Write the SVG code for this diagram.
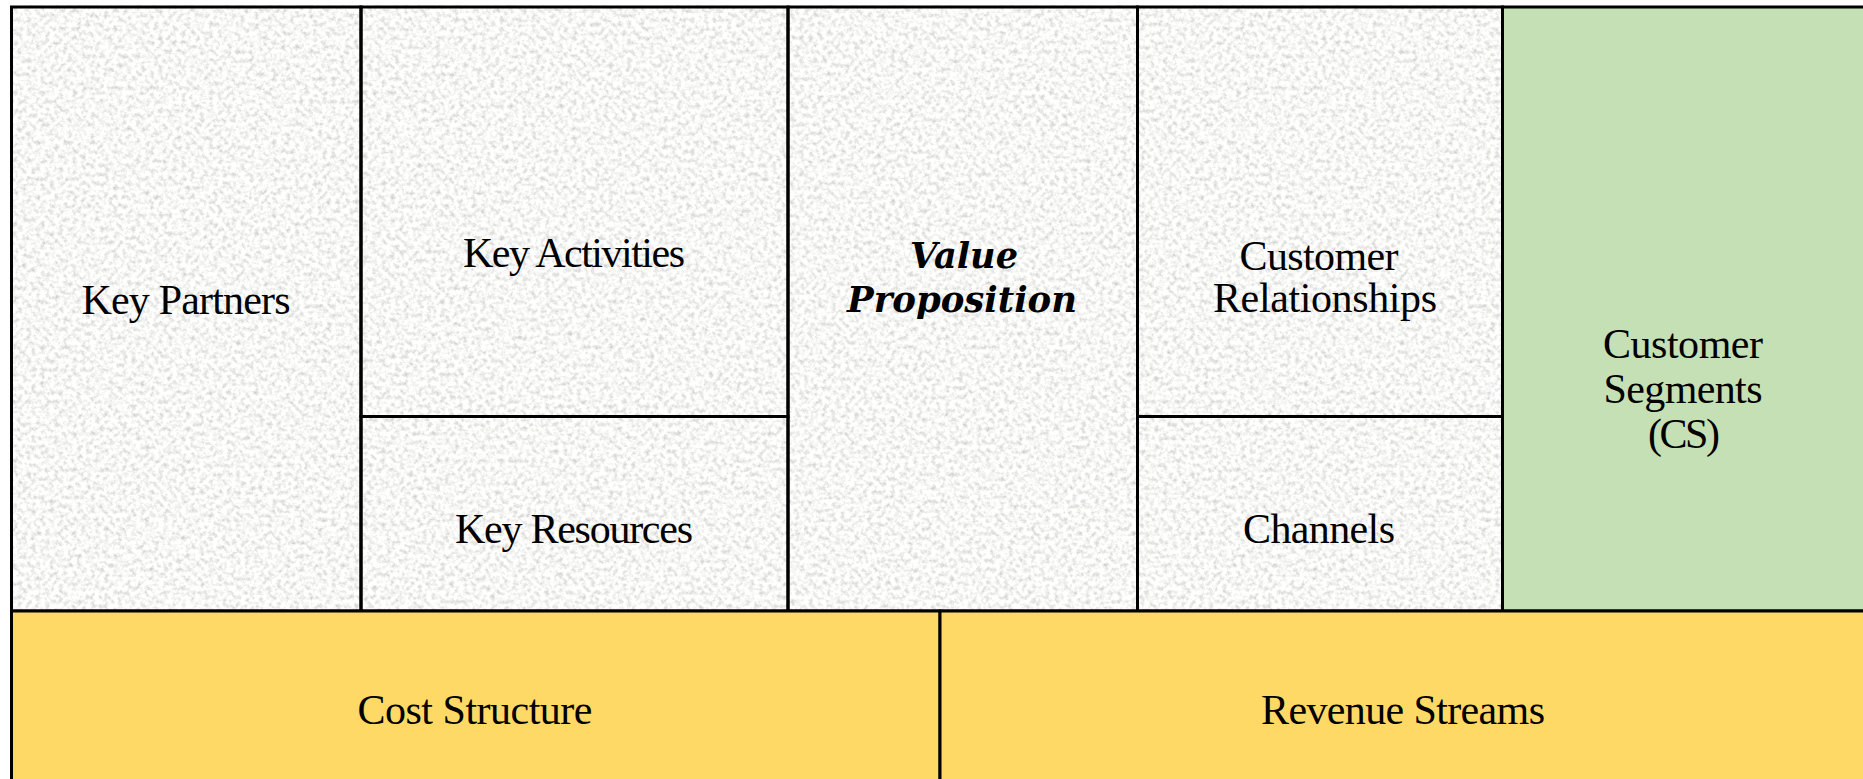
<svg xmlns="http://www.w3.org/2000/svg" width="1863" height="779" viewBox="0 0 1863 779">
<style>
.cell{stroke:#000;stroke-width:3;}
.gray{fill:none;}
.gold{fill:#FFD966;}
.green{fill:#C5E0B4;}
.t{font-family:"Liberation Serif","Times New Roman",serif;font-size:42px;fill:#000;text-anchor:middle;}
.vp{font-family:"DejaVu Serif","Liberation Serif",serif;font-size:35px;font-weight:bold;font-style:italic;fill:#000;text-anchor:middle;}
</style>
<defs>
<filter id="granite" filterUnits="userSpaceOnUse" x="10" y="5" width="1495" height="608">
<feTurbulence type="fractalNoise" baseFrequency="0.22" numOctaves="3" seed="7" result="n"/>
<feColorMatrix in="n" type="matrix" values="0.8 0 0 0 0.53  0.8 0 0 0 0.53  0.78 0 0 0 0.53  0 0 0 0 1"/>
</filter>
</defs>
<rect x="0" y="0" width="1863" height="779" fill="#fff"/>
<rect x="11" y="7" width="1492" height="604" fill="#ececea" filter="url(#granite)"/>
<g id="key-partners">
<rect class="cell gray" x="11.5" y="7" width="349.5" height="604"/>
<text class="t" x="186" y="314" textLength="209">Key Partners</text>
</g>
<g id="key-activities">
<rect class="cell gray" x="361" y="7" width="427" height="409.5"/>
<text class="t" x="574" y="267" textLength="222">Key Activities</text>
</g>
<g id="key-resources">
<rect class="cell gray" x="361" y="416.5" width="427" height="194.5"/>
<text class="t" x="574" y="543" textLength="238">Key Resources</text>
</g>
<g id="value-proposition">
<rect class="cell gray" x="788" y="7" width="349.5" height="604"/>
<text class="vp" x="964" y="268" textLength="108" lengthAdjust="spacingAndGlyphs">Value</text>
<text class="vp" x="962" y="312" textLength="230" lengthAdjust="spacingAndGlyphs">Proposition</text>
</g>
<g id="customer-relationships">
<rect class="cell gray" x="1137.5" y="7" width="365" height="409.5"/>
<text class="t" x="1319" y="270" textLength="159">Customer</text>
<text class="t" x="1325" y="312" textLength="224">Relationships</text>
</g>
<g id="channels">
<rect class="cell gray" x="1137.5" y="416.5" width="365" height="194.5"/>
<text class="t" x="1319" y="543" textLength="152">Channels</text>
</g>
<g id="customer-segments">
<rect class="cell green" x="1502.5" y="7" width="362" height="604"/>
<text class="t" x="1683" y="358" textLength="160">Customer</text>
<text class="t" x="1683" y="403" textLength="159">Segments</text>
<text class="t" x="1684" y="448" textLength="72">(CS)</text>
</g>
<g id="cost-structure">
<rect class="cell gold" x="11.5" y="611" width="928.5" height="171"/>
<text class="t" x="475" y="724" textLength="235">Cost Structure</text>
</g>
<g id="revenue-streams">
<rect class="cell gold" x="940" y="611" width="925" height="171"/>
<text class="t" x="1403" y="724" textLength="284">Revenue Streams</text>
</g>
<g id="connectors"></g>
</svg>
